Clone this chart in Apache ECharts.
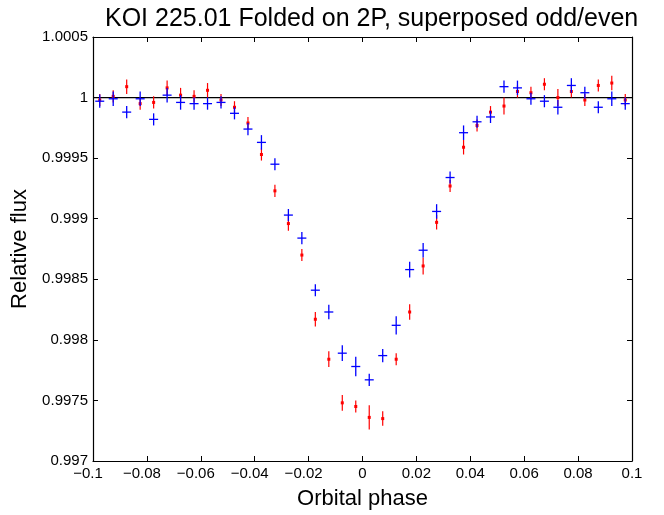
<!DOCTYPE html>
<html>
<head>
<meta charset="utf-8">
<script src="https://cdn.jsdelivr.net/npm/echarts@6/dist/echarts.min.js"></script>
<style>
  html, body { margin: 0; padding: 0; background: #fff; }
  #chart { width: 664px; height: 515px; }
</style>
</head>
<body>
<div id="chart"></div>
<script>
// orbital phase of each bin
const phase = [
  -0.0975, -0.0925, -0.0875, -0.0825, -0.0775, -0.0725, -0.0675, -0.0625, -0.0575, -0.0525,
  -0.0475, -0.0425, -0.0375, -0.0325, -0.0275, -0.0225, -0.0175, -0.0125, -0.0075, -0.0025,
  0.0025, 0.0075, 0.0125, 0.0175, 0.0225, 0.0275, 0.0325, 0.0375, 0.0425, 0.0475,
  0.0525, 0.0575, 0.0625, 0.0675, 0.0725, 0.0775, 0.0825, 0.0875, 0.0925, 0.0975
];

// blue crosses (odd transits)
const oddFlux = [
  0.99997, 0.99999, 0.99988, 0.99999, 0.99982, 1.00002, 0.99996, 0.99995, 0.99995, 0.99996,
  0.99987, 0.99974, 0.99963, 0.99945, 0.99903, 0.99884, 0.99841, 0.99823, 0.99789, 0.99778,
  0.99767, 0.99787, 0.99812, 0.99858, 0.99874, 0.99906, 0.99934, 0.99971, 0.99980, 0.99984,
  1.00009, 1.00008, 0.99999, 0.99997, 0.99992, 1.00010, 1.00004, 0.99992, 0.99999, 0.99995
];
const oddErr = [
  0.000055, 0.00006, 0.00005, 0.00006, 0.00005, 0.00006, 0.00006, 0.00005, 0.00005, 0.00005,
  0.00005, 0.00005, 0.00006, 0.00005, 0.00005, 0.00005, 0.00005, 0.00006, 0.000065, 0.00008,
  0.00005, 0.000055, 0.000075, 0.000065, 0.00006, 0.00006, 0.00005, 0.00006, 0.00005, 0.00005,
  0.00005, 0.00006, 0.00005, 0.00005, 0.00006, 0.00006, 0.00005, 0.00005, 0.00006, 0.00005
];

// red dots (even transits)
const evenFlux = [
  0.99998, 1.00001, 1.00009, 0.99995, 0.99996, 1.00008, 1.00002, 1.00001, 1.00006, 0.99998,
  0.99992, 0.99979, 0.99953, 0.99923, 0.99896, 0.99870, 0.99817, 0.99784, 0.99748, 0.99745,
  0.99736, 0.99735, 0.99784, 0.99823, 0.99861, 0.99897, 0.99927, 0.99959, 0.99977, 0.99988,
  0.99993, 1.00005, 1.00004, 1.00011, 1.00000, 1.00005, 0.99998, 1.00010, 1.00012, 0.99998
];
const evenErr = [
  0.00005, 0.00005, 0.00006, 0.00005, 0.00005, 0.00006, 0.00006, 0.00005, 0.00006, 0.00005,
  0.00005, 0.00005, 0.00005, 0.00005, 0.00006, 0.00005, 0.00006, 0.000065, 0.000065, 0.00005,
  0.0001, 0.00006, 0.00005, 0.000063, 0.00007, 0.00006, 0.00005, 0.00006, 0.00005, 0.00005,
  0.00007, 0.00005, 0.00005, 0.00005, 0.00007, 0.00005, 0.00005, 0.00005, 0.00006, 0.00005
];

const FONT = "'Liberation Sans', Arial, sans-serif";

// negative labels sit a few px left of their tick, as in the original
const fmtX = (v) => {
  const s = String(+v.toFixed(2));
  return v < 0 ? '{neg|' + s.replace('-', '\u2212') + '}' : s;
};
const fmtY = (v) => String(+v.toFixed(4));

function errItem(color, kind) {
  return function (params, api) {
    const x = api.value(0), y = api.value(1), e = api.value(2);
    const c = api.coord([x, y]);
    const hi = api.coord([x, y + e]);
    const lo = api.coord([x, y - e]);
    const children = [];
    if (kind === 'cross') {
      const top = Math.min(hi[1], c[1] - 4);
      const bot = Math.max(lo[1], c[1] + 4);
      children.push({ type: 'line', shape: { x1: c[0], y1: top, x2: c[0], y2: bot },
        style: { stroke: color, lineWidth: 1.3 } });
      children.push({ type: 'line', shape: { x1: c[0] - 4.5, y1: c[1], x2: c[0] + 4.5, y2: c[1] },
        style: { stroke: color, lineWidth: 1.3 } });
    } else {
      children.push({ type: 'line', shape: { x1: c[0], y1: hi[1], x2: c[0], y2: lo[1] },
        style: { stroke: color, lineWidth: 1.2 } });
      children.push({ type: 'rect', shape: { x: c[0] - 1.5, y: c[1] - 1.5, width: 3, height: 3 },
        style: { fill: color } });
    }
    return { type: 'group', children: children };
  };
}

const chart = echarts.init(document.getElementById('chart'), null, { renderer: 'canvas' });

const tickStyle = { show: true, inside: true, length: 5, lineStyle: { color: '#000', width: 1 } };
const lineStyle = { show: true, onZero: false, lineStyle: { color: '#000', width: 1.2 } };

chart.setOption({
  animation: false,
  backgroundColor: '#fff',
  title: {
    text: 'KOI 225.01 Folded on 2P, superposed odd/even',
    left: 100,
    top: 2,
    textStyle: { fontFamily: FONT, fontSize: 25, fontWeight: 'normal', color: '#000' }
  },
  grid: { left: 93, right: 32, top: 37, bottom: 54 },
  xAxis: [
    {
      type: 'value', min: -0.1, max: 0.1, interval: 0.02,
      name: 'Orbital phase', nameLocation: 'middle', nameGap: 27,
      nameTextStyle: { fontFamily: FONT, fontSize: 22, color: '#000' },
      axisLine: lineStyle, axisTick: tickStyle,
      axisLabel: {
        formatter: fmtX, fontFamily: FONT, fontSize: 15, color: '#000', margin: 5,
        rich: { neg: { fontFamily: FONT, fontSize: 15, color: '#000', padding: [0, 10, 0, 0] } }
      },
      splitLine: { show: false }
    },
    {
      type: 'value', position: 'top', min: -0.1, max: 0.1, interval: 0.02,
      axisLine: lineStyle, axisTick: tickStyle, axisLabel: { show: false }, splitLine: { show: false }
    }
  ],
  yAxis: [
    {
      type: 'value', min: 0.997, max: 1.0005, interval: 0.0005,
      name: 'Relative flux', nameLocation: 'middle', nameGap: 58, nameRotate: 90,
      nameTextStyle: { fontFamily: FONT, fontSize: 22, color: '#000' },
      axisLine: lineStyle, axisTick: tickStyle,
      axisLabel: { formatter: fmtY, fontFamily: FONT, fontSize: 15, color: '#000', margin: 5 },
      splitLine: { show: false }
    },
    {
      type: 'value', position: 'right', min: 0.997, max: 1.0005, interval: 0.0005,
      axisLine: lineStyle, axisTick: tickStyle, axisLabel: { show: false }, splitLine: { show: false }
    }
  ],
  series: [
    {
      type: 'line',
      data: [[-0.1, 1], [0.1, 1]],
      symbol: 'none',
      lineStyle: { color: '#000', width: 1.2 },
      silent: true,
      z: 1
    },
    {
      type: 'custom',
      name: 'even',
      renderItem: errItem('#ff0000', 'dot'),
      data: phase.map((p, i) => [p, evenFlux[i], evenErr[i]]),
      encode: { x: 0, y: 1 },
      z: 2
    },
    {
      type: 'custom',
      name: 'odd',
      renderItem: errItem('#0000ff', 'cross'),
      data: phase.map((p, i) => [p, oddFlux[i], oddErr[i]]),
      encode: { x: 0, y: 1 },
      z: 3
    }
  ]
});
</script>
</body>
</html>
